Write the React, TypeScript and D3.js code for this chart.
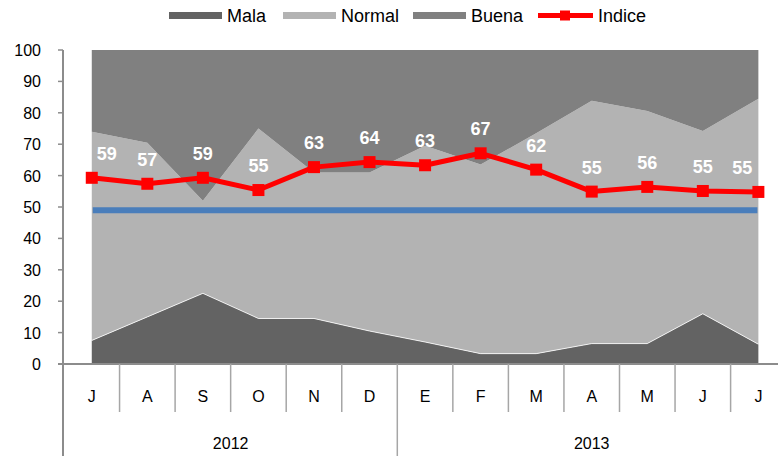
import * as d3 from "d3";

const meses = ["J", "A", "S", "O", "N", "D", "E", "F", "M", "A", "M", "J", "J"];
const anios = ["2012", "2013"];
const mesesPorAnio = [6, 7];

const mala = [7.5, 15, 22.5, 14.5, 14.5, 10.5, 7, 3.3, 3.3, 6.5, 6.5, 16, 6.3];
const normal = [66.5, 55.5, 29.5, 60.5, 46.5, 50.5, 62.5, 60.2, 70.2, 77.3, 74.1, 58.2, 78.2];
const buena = [26, 29.5, 48, 25, 39, 39, 30.5, 36.5, 26.5, 16.2, 19.4, 25.8, 15.5];
const indice = [59.3, 57.4, 59.3, 55.4, 62.7, 64.3, 63.3, 67.1, 61.9, 54.9, 56.4, 55.1, 54.8];
const referencia = [49, 49, 49, 49, 49, 49, 49, 49, 49, 49, 49, 49, 49];
const yTicks = [0, 10, 20, 30, 40, 50, 60, 70, 80, 90, 100];

const FONT = "'Liberation Sans', Arial, sans-serif";
const COLORS = { mala: "#636363", normal: "#b3b3b3", buena: "#808080" };
const AXIS = "#8c8c8c";

export default function App() {
  const width = 778;
  const height = 456;
  const axisX = 63;
  const y0 = 364;

  const x = d3
    .scaleBand<number>()
    .domain(meses.map((_, i) => i))
    .range([64, 64 + 13 * 55.55])
    .padding(0);
  const cx = (i: number) => x(i)! + x.bandwidth() / 2;
  const y = d3.scaleLinear().domain([0, 100]).range([y0, 50]);

  const table = meses.map((_, i) => ({
    i,
    mala: mala[i],
    normal: normal[i],
    buena: buena[i],
  }));
  const keys = ["mala", "normal", "buena"] as const;
  const series = d3.stack<any>().keys(keys as any)(table);

  const area = d3
    .area<any>()
    .x((d) => cx(d.data.i))
    .y0((d) => y(d[0]))
    .y1((d) => y(d[1]));

  const malaTop = d3
    .line<number>()
    .x((_, i) => cx(i))
    .y((d) => y(d));

  const line = d3
    .line<number>()
    .x((_, i) => cx(i))
    .y((d) => y(d));

  // year boundaries
  let acc = 0;
  const yearSpans = anios.map((a, k) => {
    const start = acc;
    acc += mesesPorAnio[k];
    return { label: a, start, end: acc };
  });
  const bandEdge = (i: number) => x(i) ?? x.range()[1];
  const yearBreaks = yearSpans.slice(1).map((s) => s.start);

  const legend = [
    { label: "Mala", color: COLORS.mala, x: 169 },
    { label: "Normal", color: COLORS.normal, x: 283 },
    { label: "Buena", color: COLORS.buena, x: 413 },
  ];

  return (
    <svg
      width={width}
      height={height}
      style={{ position: "absolute", left: 0, top: 0, background: "#fff" }}
      fontFamily={FONT}
    >
      {/* legend */}
      {legend.map((l) => (
        <g key={l.label}>
          <rect x={l.x} y={12} width={53} height={7} fill={l.color} />
          <text x={l.x + 58} y={22} fontSize={18} fill="#000">
            {l.label}
          </text>
        </g>
      ))}
      <g>
        <line x1={538} x2={593} y1={15.5} y2={15.5} stroke="#ff0000" strokeWidth={5} />
        <rect x={560} y={10.5} width={10} height={10} fill="#ff0000" />
        <text x={598} y={22} fontSize={18} fill="#000">
          Indice
        </text>
      </g>

      {/* stacked areas */}
      {series.map((s) => (
        <path key={s.key} d={area(s as any)!} fill={(COLORS as any)[s.key]} />
      ))}
      <path d={malaTop(mala)!} fill="none" stroke="#fff" strokeWidth={0.8} />

      {/* reference line */}
      <line
        x1={cx(0) + 1}
        x2={cx(referencia.length - 1) - 1}
        y1={y(referencia[0])}
        y2={y(referencia[referencia.length - 1])}
        stroke="#4a7ebb"
        strokeWidth={6}
      />

      {/* indice */}
      <path d={line(indice)!} fill="none" stroke="#ff0000" strokeWidth={5} strokeLinejoin="round" />
      {indice.map((v, i) => (
        <rect key={i} x={cx(i) - 6} y={y(v) - 6} width={12} height={12} fill="#ff0000" />
      ))}
      {indice.map((v, i) => {
        const last = indice.length - 1;
        const dx = i === 0 ? 15 : i === last ? -16 : 0;
        return (
          <text
            key={i}
            x={cx(i) + dx}
            y={y(v) - 18}
            textAnchor="middle"
            fontSize={18}
            fontWeight="bold"
            fill="#fff"
          >
            {Math.round(v)}
          </text>
        );
      })}

      {/* y axis */}
      <line x1={axisX} x2={axisX} y1={y(100)} y2={height} stroke={AXIS} strokeWidth={2} />
      {yTicks.map((t) => (
        <g key={t}>
          <line x1={axisX - 5} x2={axisX} y1={y(t)} y2={y(t)} stroke={AXIS} strokeWidth={1.5} />
          <text x={41} y={y(t) + 6} textAnchor="end" fontSize={16} fill="#000">
            {t}
          </text>
        </g>
      ))}

      {/* x axis */}
      <line x1={axisX - 5} x2={width} y1={y0} y2={y0} stroke={AXIS} strokeWidth={2} />
      {meses.slice(1).map((_, k) => {
        const i = k + 1;
        const isYear = yearBreaks.includes(i);
        return (
          <line
            key={i}
            x1={bandEdge(i)}
            x2={bandEdge(i)}
            y1={y0}
            y2={isYear ? height : 412}
            stroke="#a6a6a6"
            strokeWidth={1.5}
          />
        );
      })}
      {meses.map((m, i) => (
        <text key={i} x={cx(i)} y={402} textAnchor="middle" fontSize={16} fill="#000">
          {m}
        </text>
      ))}
      {yearSpans.map((s) => (
        <text
          key={s.label}
          x={(bandEdge(s.start) + bandEdge(s.end)) / 2}
          y={449}
          textAnchor="middle"
          fontSize={16}
          fill="#000"
        >
          {s.label}
        </text>
      ))}
    </svg>
  );
}
